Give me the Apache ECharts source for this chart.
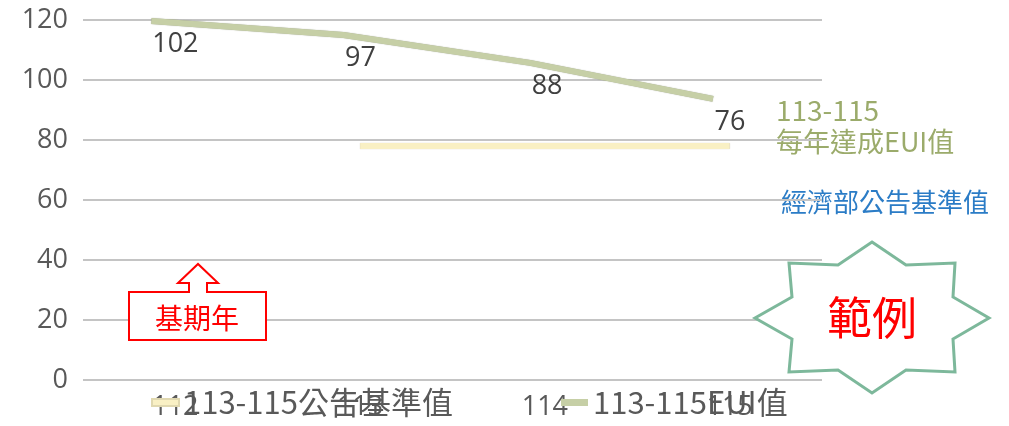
<!DOCTYPE html>
<html>
<head>
<meta charset="utf-8">
<script src="https://cdn.jsdelivr.net/npm/echarts@6/dist/echarts.min.js"></script>
<style>
  html, body { margin: 0; padding: 0; background: #fff; }
  #chart { width: 1009px; height: 426px; }
</style>
</head>
<body>
<div id="chart"></div>
<script>
// 年度
const years = ["112", "113", "114", "115"];
// 公告基準值 (113-115)
const baseValues = [null, 78, 78, 78];
// EUI 線條所在位置 (x 為類別索引, 讀自圖面)
const euiX = [-0.13, 0.91, 1.92, 2.91];
const euiY = [119.7, 115, 105.7, 93.7];
// EUI 標示值
const euiLabels = [102, 97, 88, 76];
const yTicks = { min: 0, max: 120, interval: 20 };

const font = '"Noto Sans CJK TC", "Noto Sans", sans-serif';
const numFont = '"Open Sans", "Noto Sans", sans-serif';
const chart = echarts.init(document.getElementById("chart"), null, { renderer: "canvas" });

const euiData = euiX.map((x, i) => ({
    value: [x, euiY[i]],
    label: { offset: [i === 0 ? 24 : 17, 0] },
}));

chart.setOption({
    animation: false,
    textStyle: { fontFamily: font },
    grid: { left: 83, right: 187, top: 20, bottom: 46, outerBoundsMode: "none" },
    legend: [
        {
            data: ["113-115公告基準值"],
            left: 146, top: 382,
            itemWidth: 27, itemHeight: 7, itemGap: 8,
            icon: "rect",
            textStyle: { fontSize: 31, color: "#595959", fontFamily: font },
        },
        {
            data: ["113-115EUI值"],
            left: 556, top: 382,
            itemWidth: 27, itemHeight: 7,
            icon: "rect",
            textStyle: { fontSize: 31, color: "#595959", fontFamily: font },
        },
    ],
    xAxis: [
        {
            type: "category",
            data: years,
            axisLine: { show: false },
            axisTick: { show: false },
            axisLabel: { fontSize: 27, color: "#595959", margin: 14, fontFamily: numFont },
        },
        { type: "value", min: -0.5, max: 3.5, show: false },
    ],
    yAxis: {
        type: "value",
        ...yTicks,
        axisLine: { show: false },
        axisTick: { show: false },
        axisLabel: { fontSize: 27, color: "#595959", margin: 15, fontFamily: numFont },
        splitLine: { lineStyle: { color: "#c4c4c4", width: 2 } },
    },
    series: [
        {
            name: "113-115公告基準值",
            type: "line",
            data: baseValues,
            showSymbol: false,
            itemStyle: { color: "#f9f0c4", borderColor: "#e0d8b0", borderWidth: 1 },
            lineStyle: { color: "#f9f0c4", width: 6, shadowColor: "rgba(150,140,100,0.6)", shadowBlur: 1 },
            z: 3,
        },
        {
            name: "113-115EUI值",
            type: "line",
            xAxisIndex: 1,
            data: euiData,
            showSymbol: true,
            symbol: "circle",
            symbolSize: 0,
            itemStyle: { color: "#c6cfa6" },
            lineStyle: { color: "#c6cfa6", width: 6, shadowColor: "rgba(120,125,100,0.7)", shadowBlur: 1 },
            label: {
                show: true,
                position: "bottom",
                distance: 10,
                fontSize: 27,
                color: "#404040",
                fontFamily: numFont,
                formatter: (p) => euiLabels[p.dataIndex],
            },
            z: 4,
        },
    ],
    graphic: [
        { type: "text", left: 776, top: 96, style: { text: "113-115", fontSize: 28, fill: "#9bab6b", fontFamily: font } },
        { type: "text", left: 776, top: 128, style: { text: "每年達成EUI值", fontSize: 27, fill: "#9bab6b", fontFamily: font } },
        { type: "text", left: 781, top: 189, style: { text: "經濟部公告基準值", fontSize: 26, fill: "#2b7cc6", fontFamily: font } },
        {
            type: "polygon",
            shape: {
                points: [
                    [872, 242], [906, 265], [955, 263], [953, 297], [989, 318], [953, 339],
                    [955, 372], [906, 370], [872, 393], [838, 370], [789, 372], [792, 339],
                    [755, 318], [792, 297], [789, 263], [838, 265],
                ],
            },
            style: { fill: "#fff", stroke: "#7db89b", lineWidth: 3 },
            z: 10,
        },
        {
            type: "text", x: 872, y: 318, z: 11,
            style: { text: "範例", fontSize: 45, fill: "#ff0000", fontFamily: font, align: "center", verticalAlign: "middle" },
        },
        {
            type: "polygon",
            shape: {
                points: [
                    [129, 292], [189, 292], [189, 283], [178, 283], [198, 264], [218, 283],
                    [207, 283], [207, 292], [266, 292], [266, 340], [129, 340],
                ],
            },
            style: { fill: "#fff", stroke: "#ff0000", lineWidth: 2 },
            z: 10,
        },
        {
            type: "text", x: 197, y: 318, z: 11,
            style: { text: "基期年", fontSize: 28, fill: "#ff0000", fontFamily: font, align: "center", verticalAlign: "middle" },
        },
    ],
});
</script>
</body>
</html>
